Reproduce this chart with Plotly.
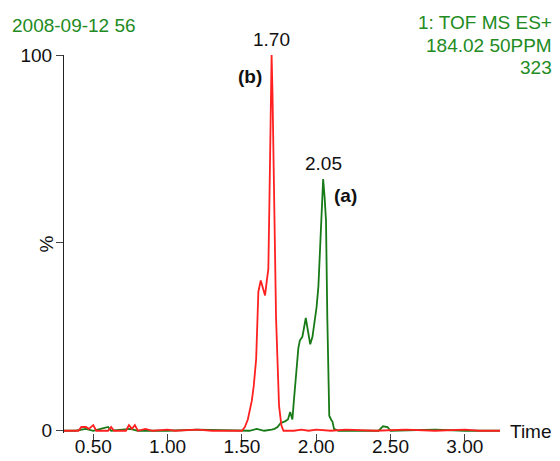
import plotly.graph_objects as go

# ---- data ----
red_time = [0.303, 0.40, 0.42, 0.45, 0.47, 0.50, 0.52, 0.60, 0.62, 0.64, 0.72, 0.74, 0.76, 0.78, 0.80,
            0.85, 0.90, 1.00, 1.05, 1.20, 1.30, 1.50, 1.52, 1.54, 1.567, 1.58, 1.596, 1.605, 1.611,
            1.627, 1.64, 1.656, 1.668, 1.678, 1.685, 1.692, 1.70, 1.706, 1.717, 1.73, 1.75, 1.766,
            1.78, 1.85, 1.90, 1.95, 2.00, 2.10, 2.20, 2.40, 2.60, 2.80, 3.00, 3.10, 3.237]
red_pct = [0, 0, 1, 1, 0.5, 1.5, 0, 0, 1, 0, 0, 1.5, 0.5, 1.5, 0,
           0.5, 0, 0.3, 0, 0.3, 0, 0, 1, 3, 8, 12, 19, 30, 37,
           40, 38, 36, 40, 43, 60, 85, 100, 90, 56, 30, 6.7, 1.4,
           0, 0, 0.3, 0, 0.3, 0, 0.3, 0, 0.3, 0, 0.3, 0, 0]

green_time = [0.303, 0.38, 0.45, 0.50, 0.55, 0.60, 0.62, 0.75, 0.80, 1.00, 1.20, 1.55, 1.60, 1.65,
              1.70, 1.72, 1.74, 1.76, 1.79, 1.81, 1.825, 1.84, 1.85, 1.868, 1.88, 1.89, 1.907,
              1.93, 1.945, 1.96, 1.975, 1.99, 2.003, 2.015, 2.025, 2.035, 2.047, 2.057, 2.066,
              2.075, 2.088, 2.10, 2.11, 2.12, 2.15, 2.30, 2.42, 2.45, 2.48, 2.50, 2.80, 3.00, 3.237]
green_pct = [0, 0, 0.5, 0, 0.5, 1, 0, 0.5, 0, 0, 0.3, 0, 0.5, 0,
             0.3, 0.5, 1, 2, 2.5, 3, 5, 3, 8, 16, 22, 24, 25,
             30, 27, 23, 25, 29, 33, 38.5, 47, 58, 67, 62, 56,
             30, 4, 3, 2.4, 0.5, 0, 0, 0, 1.2, 1, 0, 0.3, 0, 0]

x_tick_vals = [0.5, 1.0, 1.5, 2.0, 2.5, 3.0]
x_tick_text = ["0.50", "1.00", "1.50", "2.00", "2.50", "3.00"]
y_tick_vals = [0, 50, 100]
y_tick_text = ["0", "", "100"]

peak_labels = [("1.70", 1.70, 100), ("2.05", 2.047, 67)]
series_labels = [("(b)", 1.555, 94.3), ("(a)", 2.197, 62.7)]

header_left = "2008-09-12 56"
header_right = ["1: TOF MS ES+", "184.02 50PPM", "323"]

TEXT_GREEN = "#228b22"
LINE_GREEN = "#177a17"
RED = "#ff2020"
FONT = "Liberation Sans, Arial, Helvetica, sans-serif"
FS = 19

# geometry (figure pixels; page has an 8px body margin)
W, H = 552, 453
L, R, T, B = 56, 60, 47, 28
PW = W - L - R
PH = H - T - B


def px(fx):
    return (fx - L) / PW


def py(fy):
    return (H - B - fy) / PH


fig = go.Figure()
fig.add_trace(go.Scatter(x=green_time, y=green_pct, mode="lines",
                         line=dict(color=LINE_GREEN, width=1.8), showlegend=False, hoverinfo="skip"))
fig.add_trace(go.Scatter(x=red_time, y=red_pct, mode="lines",
                         line=dict(color=RED, width=1.8), showlegend=False, hoverinfo="skip"))

for txt, x, y in peak_labels:
    fig.add_annotation(x=x, y=y, xref="x", yref="y", text=txt, showarrow=False,
                       yanchor="bottom", yshift=3, font=dict(size=FS, color="#111"))
for txt, x, y in series_labels:
    fig.add_annotation(x=x, y=y, xref="x", yref="y", text="<b>" + txt + "</b>",
                       showarrow=False, font=dict(size=FS, color="#111"))

fig.add_annotation(text=header_left, xref="paper", yref="paper", x=px(2), y=py(17),
                   xanchor="left", yanchor="middle", showarrow=False,
                   font=dict(size=FS, color=TEXT_GREEN))
for line, cy in zip(header_right, [14.5, 37.5, 59.5]):
    fig.add_annotation(text=line, xref="paper", yref="paper", x=px(546), y=py(cy),
                       xanchor="right", yanchor="middle", showarrow=False,
                       font=dict(size=FS, color=TEXT_GREEN))
fig.add_annotation(text="%", xref="paper", yref="paper", x=px(37.5), y=0.5,
                   xanchor="center", yanchor="middle",
                   showarrow=False, textangle=-90, font=dict(size=FS, color="#111"))
fig.add_annotation(text="Time", xref="paper", yref="paper", x=px(500), y=py(423.5),
                   xanchor="left", yanchor="middle", showarrow=False,
                   font=dict(size=FS, color="#111"))

fig.update_layout(
    width=W, height=H,
    margin=dict(l=L, r=R, t=T, b=B, autoexpand=False),
    paper_bgcolor="white", plot_bgcolor="white",
    font=dict(family=FONT, size=FS, color="#111"),
    xaxis=dict(range=[0.303, 3.237], tickvals=x_tick_vals, ticktext=x_tick_text,
               showgrid=False, zeroline=False, showline=False, automargin=False,
               ticks="outside", ticklen=7, tickcolor="#444", tickfont=dict(size=FS),
               ticklabelstandoff=-11),
    yaxis=dict(range=[-0.6, 100], tickvals=y_tick_vals, ticktext=y_tick_text,
               showgrid=False, zeroline=False, showline=True, linecolor="#222", linewidth=1,
               automargin=False,
               ticks="outside", ticklen=7, tickcolor="#444", tickfont=dict(size=FS)),
)

fig.write_html("out.html")
